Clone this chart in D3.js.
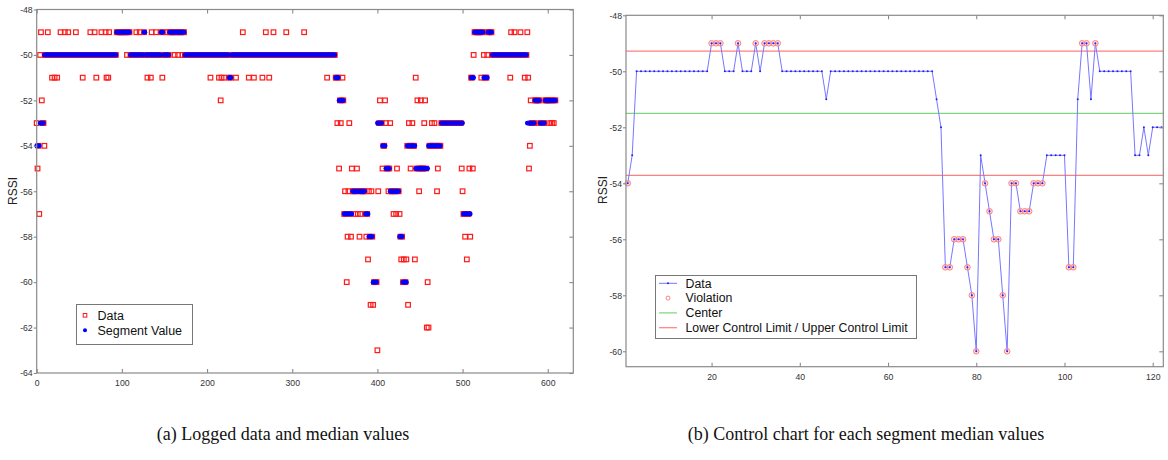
<!DOCTYPE html>
<html>
<head>
<meta charset="utf-8">
<script src="https://cdn.jsdelivr.net/npm/d3@7"></script>
<style>
  body { margin: 0; background: #fff; }
  svg { display: block; }
</style>
</head>
<body>
<svg id="chart" width="1168" height="460"></svg>
<script>
// ---------- Panel (a): logged RSSI and segment medians ----------
// Segment runs over sample index: [firstIndex, lastIndex, medianRSSI]
const segmentRuns = [
  [0, 3, -54], [4, 8, -53], [9, 93, -50], [94, 109, -49], [110, 125, -50],
  [126, 127, -49], [128, 145, -50], [146, 148, -49], [149, 155, -50], [156, 173, -49],
  [174, 225, -50], [226, 228, -51], [229, 350, -50], [351, 354, -51], [355, 360, -52],
  [361, 370, -57], [371, 385, -56], [386, 389, -57], [390, 394, -58], [395, 399, -60],
  [400, 405, -53], [406, 409, -54], [410, 414, -55], [415, 425, -56], [426, 429, -58],
  [430, 434, -60], [435, 444, -54], [445, 459, -55], [460, 474, -54], [475, 500, -53],
  [501, 509, -57], [510, 513, -51], [514, 524, -49], [525, 529, -51], [530, 534, -49],
  [535, 575, -50], [576, 584, -53], [585, 590, -52], [591, 596, -53], [597, 609, -52]
];

// Logged samples whose RSSI differs from the segment median, grouped by RSSI
const readings49 = [5, 13, 28, 33, 37, 46, 63, 68, 76, 81, 85, 117, 121, 135, 140, 153,
                    242, 269, 278, 293, 314, 557, 561, 568, 576];
const readings50 = [4, 106, 127, 147, 162, 166, 171, 227, 513, 525, 529];
const readings51 = [18, 21, 24, 54, 70, 82, 84, 130, 134, 147.5, 204, 214, 217, 220, 234,
                    249, 255, 265, 273, 341, 359, 445, 522, 556, 573, 577];
const readings52 = [6, 216, 403, 409, 447, 451, 456, 580];
const readings53 = [0, 353, 357, 367, 410, 415, 437, 441, 455, 464, 467, 603, 605, 607];
const readings54 = [9, 579];
const readings55 = [1, 355, 370, 376, 406, 423, 439, 471, 499, 508, 512, 578];
const readings56 = [362, 366, 390, 393, 401, 413, 449, 470, 500];
const readings57 = [3, 374, 377, 380, 419, 422, 426];
const readings58 = [365, 369, 379, 387, 503, 509];
const readings59 = [389, 428, 431, 434, 444, 505];
const readings60 = [364, 459];
const readings61 = [392, 395, 436];
const readings62 = [458, 460];
const readings63 = [400];

const xTicksA = [0, 100, 200, 300, 400, 500, 600];
const yTicksA = [-64, -62, -60, -58, -56, -54, -52, -50, -48];

// ---------- Panel (b): control chart of segment medians ----------
const segmentMedians = [
  -54, -53, -50, -50, -50, -50, -50, -50, -50, -50,
  -50, -50, -50, -50, -50, -50, -50, -50, -50, -49,
  -49, -49, -50, -50, -50, -49, -50, -50, -50, -49,
  -50, -49, -49, -49, -49, -50, -50, -50, -50, -50,
  -50, -50, -50, -50, -50, -51, -50, -50, -50, -50,
  -50, -50, -50, -50, -50, -50, -50, -50, -50, -50,
  -50, -50, -50, -50, -50, -50, -50, -50, -50, -50,
  -51, -52, -57, -57, -56, -56, -56, -57, -58, -60,
  -53, -54, -55, -56, -56, -58, -60, -54, -54, -55,
  -55, -55, -54, -54, -54, -53, -53, -53, -53, -53,
  -57, -57, -51, -49, -49, -51, -49, -50, -50, -50,
  -50, -50, -50, -50, -50, -53, -53, -52, -53, -52,
  -52, -52
];
const centerLine = -51.5;
const lowerLimit = -53.72;
const upperLimit = -49.28;

const xTicksB = [20, 40, 60, 80, 100, 120];
const yTicksB = [-60, -58, -56, -54, -52, -50, -48];

const legendA = ["Data", "Segment Value"];
const legendB = ["Data", "Violation", "Center", "Lower Control Limit / Upper Control Limit"];
const captions = ["(a) Logged data and median values",
                  "(b) Control chart for each segment median values"];

// ---------- drawing ----------
const svg = d3.select("#chart");
const sans = "'Liberation Sans', Arial, sans-serif";
const axisGrey = "#8a8a8a";

function frame(g, x, y, xTicks, yTicks) {
  const [x0, x1] = x.range();
  const [y0, y1] = y.range();
  g.append("rect")
    .attr("x", x0).attr("y", y1)
    .attr("width", x1 - x0).attr("height", y0 - y1)
    .attr("fill", "none").attr("stroke", axisGrey).attr("stroke-width", 1.2);

  const bottom = g.append("g").attr("transform", `translate(0,${y0})`)
    .call(d3.axisBottom(x).tickValues(xTicks).tickSize(-4).tickPadding(7));
  const top = g.append("g").attr("transform", `translate(0,${y1})`)
    .call(d3.axisTop(x).tickValues(xTicks).tickSize(-4).tickFormat(""));
  const left = g.append("g").attr("transform", `translate(${x0},0)`)
    .call(d3.axisLeft(y).tickValues(yTicks).tickSize(3).tickPadding(1));
  const right = g.append("g").attr("transform", `translate(${x1},0)`)
    .call(d3.axisRight(y).tickValues(yTicks).tickSize(-4).tickFormat(""));

  [bottom, top, left, right].forEach(a => {
    a.select(".domain").remove();
    a.selectAll("line").attr("stroke", axisGrey).attr("stroke-width", 1.1);
    a.selectAll("text").attr("fill", "#333").style("font-family", sans).style("font-size", "8.7px");
  });
  left.selectAll("text").text(d => String(d).replace("\u2212", "-"));
}

// Panel (a)
const xA = d3.scaleLinear([0, 630], [36.7, 573.3]);
const yA = d3.scaleLinear([-64, -48], [373, 9.5]);
const gA = svg.append("g");

const segmentPoints = [];
segmentRuns.forEach(([a, b, v]) => { for (let i = a; i <= b; i++) segmentPoints.push([i, v]); });

const rawByIndex = new Map(segmentPoints.map(([i, v]) => [i, v]));
[[-49, readings49], [-50, readings50], [-51, readings51], [-52, readings52], [-53, readings53],
 [-54, readings54], [-55, readings55], [-56, readings56], [-57, readings57], [-58, readings58],
 [-59, readings59], [-60, readings60], [-61, readings61], [-62, readings62], [-63, readings63]]
  .forEach(([v, list]) => list.forEach(i => rawByIndex.set(i, v)));
const rawPoints = Array.from(rawByIndex, ([i, v]) => [i, v]);

const sq = 4.6;
gA.append("g").selectAll("rect").data(rawPoints).join("rect")
  .attr("x", d => xA(d[0]) - sq / 2).attr("y", d => yA(d[1]) - sq / 2)
  .attr("width", sq).attr("height", sq)
  .attr("fill", "none").attr("stroke", "#ff1a1a").attr("stroke-width", 1.2);

gA.append("g").selectAll("circle").data(segmentPoints).join("circle")
  .attr("cx", d => xA(d[0])).attr("cy", d => yA(d[1])).attr("r", 2.4)
  .attr("fill", "#0000ff");

frame(gA, xA, yA, xTicksA, yTicksA);

gA.append("text").attr("transform", "translate(17,191) rotate(-90)")
  .attr("text-anchor", "middle").style("font-family", sans).style("font-size", "12px")
  .attr("fill", "#222").text("RSSI");

// legend (a)
const lgA = gA.append("g");
lgA.append("rect").attr("x", 76.5).attr("y", 304.5).attr("width", 116).attr("height", 40)
  .attr("fill", "#fff").attr("stroke", "#777").attr("stroke-width", 1);
lgA.append("rect").attr("x", 85 - 1.8).attr("y", 315.3 - 1.8).attr("width", 3.6).attr("height", 3.6)
  .attr("fill", "none").attr("stroke", "#ff1a1a").attr("stroke-width", 1);
lgA.append("circle").attr("cx", 85).attr("cy", 330.3).attr("r", 2).attr("fill", "#0000ff");
lgA.selectAll("text").data(legendA).join("text")
  .attr("x", 97.5).attr("y", (d, i) => 315.3 + i * 15).attr("dy", "0.35em")
  .style("font-family", sans).style("font-size", "12.5px").attr("fill", "#111").text(d => d);

// Panel (b)
const xB = d3.scaleLinear([0.6, 122.4], [626, 1163.3]);
const yB = d3.scaleLinear([-60.55, -48], [366.7, 15.3]);
const gB = svg.append("g");

const limitColor = "#ff7f7f";
const centerColor = "#7fd47f";
const lineBlue = "#7777ff";

[[upperLimit, limitColor], [lowerLimit, limitColor], [centerLine, centerColor]].forEach(([v, c]) => {
  gB.append("line").attr("x1", xB.range()[0]).attr("x2", xB.range()[1])
    .attr("y1", yB(v)).attr("y2", yB(v)).attr("stroke", c).attr("stroke-width", 1.2);
});

const series = segmentMedians.map((v, i) => [i + 1, v]);
gB.append("path").datum(series)
  .attr("d", d3.line().x(d => xB(d[0])).y(d => yB(d[1])))
  .attr("fill", "none").attr("stroke", lineBlue).attr("stroke-width", 1);

const violations = series.filter(d => d[1] > upperLimit || d[1] < lowerLimit);
gB.append("g").selectAll("circle").data(violations).join("circle")
  .attr("cx", d => xB(d[0])).attr("cy", d => yB(d[1])).attr("r", 2.8)
  .attr("fill", "rgba(255,160,160,0.35)").attr("stroke", "#ff8080").attr("stroke-width", 1);

gB.append("g").selectAll("circle").data(series).join("circle")
  .attr("cx", d => xB(d[0])).attr("cy", d => yB(d[1])).attr("r", 1)
  .attr("fill", "#2020ff");

frame(gB, xB, yB, xTicksB, yTicksB);

gB.append("text").attr("transform", "translate(607,190) rotate(-90)")
  .attr("text-anchor", "middle").style("font-family", sans).style("font-size", "12px")
  .attr("fill", "#222").text("RSSI");

// legend (b)
const lgB = gB.append("g");
lgB.append("rect").attr("x", 655.5).attr("y", 275.5).attr("width", 261).attr("height", 63)
  .attr("fill", "#fff").attr("stroke", "#777").attr("stroke-width", 1);
const rowY = i => 283.3 + i * 14.8;
lgB.append("line").attr("x1", 659).attr("x2", 677).attr("y1", rowY(0)).attr("y2", rowY(0))
  .attr("stroke", lineBlue).attr("stroke-width", 1);
lgB.append("circle").attr("cx", 668).attr("cy", rowY(0)).attr("r", 1).attr("fill", "#2020ff");
lgB.append("circle").attr("cx", 668).attr("cy", rowY(1)).attr("r", 2)
  .attr("fill", "none").attr("stroke", "#ff8080").attr("stroke-width", 1);
lgB.append("line").attr("x1", 659).attr("x2", 677).attr("y1", rowY(2)).attr("y2", rowY(2))
  .attr("stroke", centerColor).attr("stroke-width", 1.2);
lgB.append("line").attr("x1", 659).attr("x2", 677).attr("y1", rowY(3)).attr("y2", rowY(3))
  .attr("stroke", limitColor).attr("stroke-width", 1.2);
lgB.selectAll("text").data(legendB).join("text")
  .attr("x", 685.5).attr("y", (d, i) => rowY(i)).attr("dy", "0.35em")
  .style("font-family", sans).style("font-size", "12.3px").attr("fill", "#111").text(d => d);

// captions
svg.selectAll("text.caption").data(captions).join("text")
  .attr("class", "caption")
  .attr("x", (d, i) => i === 0 ? 283 : 866).attr("y", 440)
  .attr("text-anchor", "middle")
  .style("font-family", "'Liberation Serif', 'Times New Roman', serif")
  .style("font-size", "18px").attr("fill", "#111").text(d => d);
</script>
</body>
</html>
